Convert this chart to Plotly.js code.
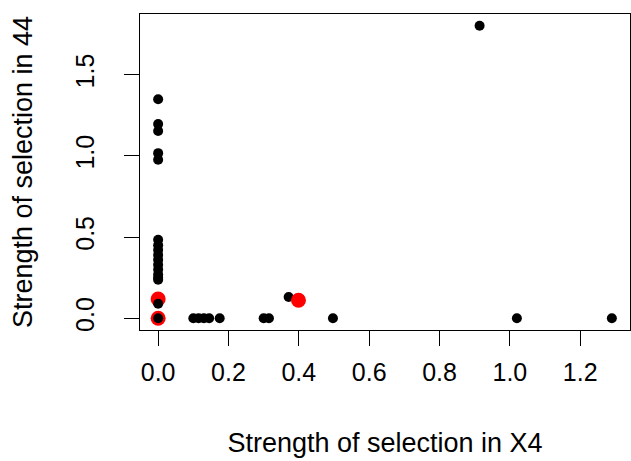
<!DOCTYPE html>
<html>
<head>
<meta charset="utf-8">
<script src="https://cdn.plot.ly/plotly-3.0.1.min.js"></script>
<style>
  html, body { margin: 0; padding: 0; background: #ffffff; }
  #chart { width: 631px; height: 461px; }
</style>
</head>
<body>
<div id="chart"></div>
<script>
// Selection strength estimates, plotted in drawing order.
// highlighted = 1 marks the selected loci (drawn larger, in red).
const strengthX4 = [
  0.000, 0.000,
  0.000, 0.000, 0.000, 0.000, 0.000,
  0.000, 0.000, 0.000, 0.000, 0.000, 0.000, 0.000, 0.000, 0.000, 0.000,
  0.000, 0.000,
  0.100, 0.115, 0.130, 0.145, 0.175, 0.300, 0.315, 0.497, 1.020, 1.290,
  0.914, 0.371,
  0.399
];
const strength44 = [
  0.000, 0.119,
  1.349, 1.196, 1.154, 1.017, 0.976,
  0.484, 0.450, 0.420, 0.390, 0.360, 0.330, 0.300, 0.270, 0.250, 0.238,
  0.090, 0.000,
  0.000, 0.000, 0.000, 0.000, 0.000, 0.000, 0.000, 0.000, 0.000, 0.000,
  1.802, 0.131,
  0.111
];
const highlighted = [
  1, 1,
  0, 0, 0, 0, 0,
  0, 0, 0, 0, 0, 0, 0, 0, 0, 0,
  0, 0,
  0, 0, 0, 0, 0, 0, 0, 0, 0, 0,
  0, 0,
  1
];
const xTickVals = [0, 0.2, 0.4, 0.6, 0.8, 1.0, 1.2];
const yTickVals = [0, 0.5, 1.0, 1.5];

// Axis limits padded by 4% of the data range on each side
function paddedRange(vals) {
  const lo = Math.min(...vals), hi = Math.max(...vals);
  const pad = (hi - lo) * 0.04;
  return [lo - pad, hi + pad];
}

const FONT = 'Liberation Sans, Arial, Helvetica, sans-serif';
const TICK_SIZE = 25;
const TITLE_SIZE = 27;

const trace = {
  type: 'scatter',
  mode: 'markers',
  x: strengthX4,
  y: strength44,
  hoverinfo: 'x+y',
  marker: {
    color: highlighted.map(h => h ? '#ff0000' : '#000000'),
    size: highlighted.map(h => h ? 15 : 10),
    opacity: 1,
    line: { width: 0 }
  },
  cliponaxis: false
};

const axisCommon = {
  showgrid: false,
  zeroline: false,
  showline: true,
  mirror: true,
  linecolor: '#000000',
  linewidth: 1,
  ticks: 'outside',
  ticklen: 15,
  tickwidth: 1,
  tickcolor: '#000000',
  tickmode: 'array',
  tickformat: '.1f',
  tickfont: { family: FONT, size: TICK_SIZE, color: '#000000' },
  automargin: false
};

const layout = {
  width: 631,
  height: 461,
  margin: { l: 140, r: 1, t: 14, b: 131, pad: 0 },
  paper_bgcolor: '#ffffff',
  plot_bgcolor: '#ffffff',
  showlegend: false,
  xaxis: Object.assign({}, axisCommon, {
    range: paddedRange(strengthX4),
    tickvals: xTickVals,
    ticklabelstandoff: 5,
    title: { text: 'Strength of selection in X4', font: { family: FONT, size: TITLE_SIZE, color: '#000000' }, standoff: 48 }
  }),
  yaxis: Object.assign({}, axisCommon, {
    range: paddedRange(strength44),
    tickvals: yTickVals,
    tickangle: -90,
    ticklabelstandoff: 20,
    title: { text: 'Strength of selection in 44', font: { family: FONT, size: TITLE_SIZE, color: '#000000' }, standoff: 30 }
  })
};

Plotly.newPlot('chart', [trace], layout, { displayModeBar: false, staticPlot: true });
</script>
</body>
</html>
